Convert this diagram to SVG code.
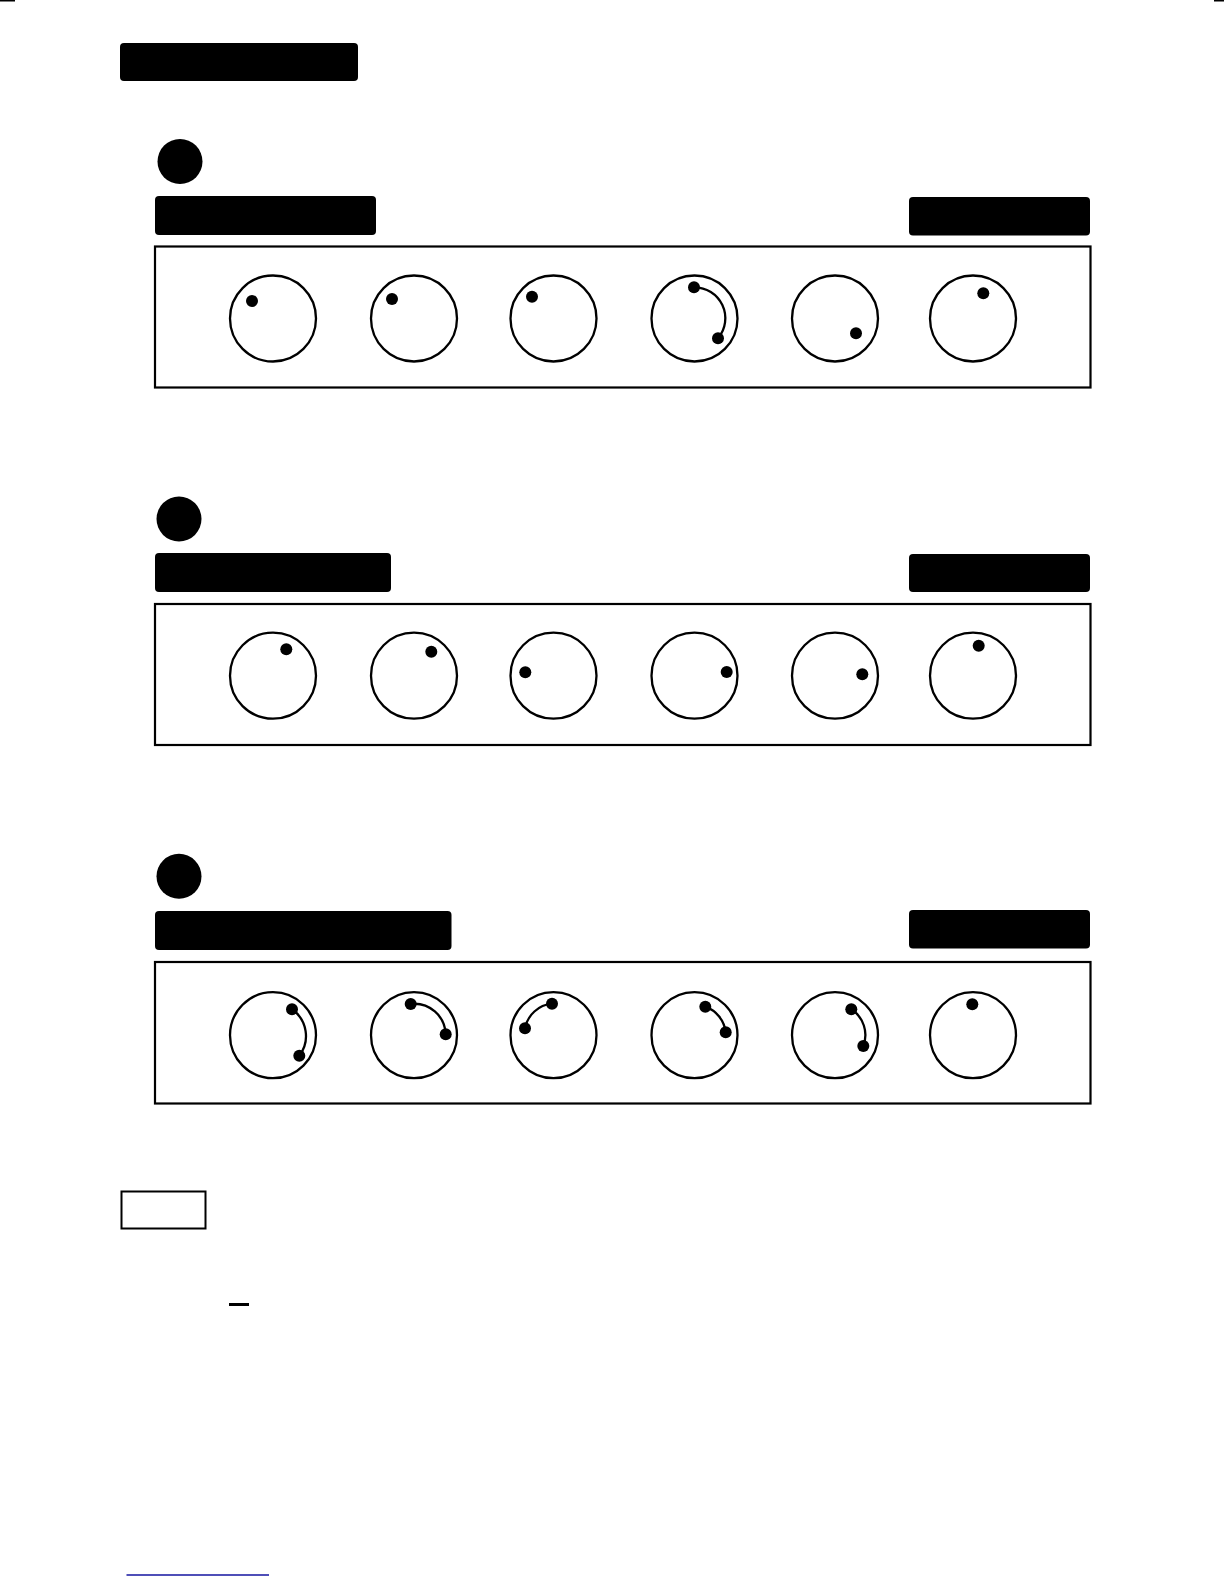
<svg xmlns="http://www.w3.org/2000/svg" width="1224" height="1584" viewBox="0 0 1224 1584">
<style>
.bar{fill:#000}
.badge{fill:#000}
.panel{fill:none;stroke:#000;stroke-width:2.2}
.knob{fill:#fff;stroke:#000;stroke-width:2.3}
.dot{fill:#000}
.arc{fill:none;stroke:#000;stroke-width:2.3}
</style>
<rect x="0" y="0" width="1224" height="1584" fill="#fff"/>
<g id="marks">
<rect x="0" y="0" width="15" height="1.5" fill="#000"/>
<rect x="1214" y="0" width="10" height="1.5" fill="#000"/>
</g>
<g id="title"><rect class="bar" x="120" y="43" width="238" height="38" rx="4"/></g>

<g id="section1">
<circle class="badge" cx="180" cy="161.5" r="22.5"/>
<rect class="bar" x="155" y="196" width="221" height="39" rx="4"/>
<rect class="bar" x="909" y="197" width="181" height="38.5" rx="4"/>
<rect class="panel" x="155" y="246.5" width="935.5" height="141"/>
<g id="s1k1"><circle class="knob" cx="273" cy="318.5" r="43"/><circle class="dot" cx="252" cy="301" r="6"/></g>
<g id="s1k2"><circle class="knob" cx="414" cy="318.5" r="43"/><circle class="dot" cx="392" cy="299" r="6"/></g>
<g id="s1k3"><circle class="knob" cx="553.5" cy="318.5" r="43"/><circle class="dot" cx="532" cy="296.7" r="6"/></g>
<g id="s1k4"><circle class="knob" cx="694.5" cy="318.5" r="43"/><path class="arc" d="M694 287.3 A31 31 0 0 1 718 338.3"/><circle class="dot" cx="694" cy="287.3" r="6"/><circle class="dot" cx="718" cy="338.3" r="6"/></g>
<g id="s1k5"><circle class="knob" cx="835" cy="318.5" r="43"/><circle class="dot" cx="856" cy="333.3" r="6"/></g>
<g id="s1k6"><circle class="knob" cx="973" cy="318.5" r="43"/><circle class="dot" cx="983.3" cy="293.3" r="6"/></g>
</g>

<g id="section2">
<circle class="badge" cx="179" cy="519" r="22.5"/>
<rect class="bar" x="155" y="553" width="236" height="39" rx="4"/>
<rect class="bar" x="909" y="554" width="181" height="38" rx="4"/>
<rect class="panel" x="155" y="604" width="935.5" height="141"/>
<g id="s2k1"><circle class="knob" cx="273" cy="675.7" r="43"/><circle class="dot" cx="286.3" cy="649.3" r="6"/></g>
<g id="s2k2"><circle class="knob" cx="414" cy="675.7" r="43"/><circle class="dot" cx="431.3" cy="651.7" r="6"/></g>
<g id="s2k3"><circle class="knob" cx="553.5" cy="675.7" r="43"/><circle class="dot" cx="525.3" cy="672.3" r="6"/></g>
<g id="s2k4"><circle class="knob" cx="694.5" cy="675.7" r="43"/><circle class="dot" cx="726.7" cy="672" r="6"/></g>
<g id="s2k5"><circle class="knob" cx="835" cy="675.7" r="43"/><circle class="dot" cx="862.3" cy="674.3" r="6"/></g>
<g id="s2k6"><circle class="knob" cx="973" cy="675.7" r="43"/><circle class="dot" cx="978.7" cy="645.7" r="6"/></g>
</g>

<g id="section3">
<circle class="badge" cx="179" cy="876.3" r="22.5"/>
<rect class="bar" x="155" y="911" width="296.5" height="39" rx="4"/>
<rect class="bar" x="909" y="910" width="181" height="38.5" rx="4"/>
<rect class="panel" x="155" y="962" width="935.5" height="141.5"/>
<g id="s3k1"><circle class="knob" cx="273" cy="1035.2" r="43"/><path class="arc" d="M292 1009.3 A32.5 32.5 0 0 1 299.3 1055.7"/><circle class="dot" cx="292" cy="1009.3" r="6"/><circle class="dot" cx="299.3" cy="1055.7" r="6"/></g>
<g id="s3k2"><circle class="knob" cx="414" cy="1035.2" r="43"/><path class="arc" d="M410.7 1004 A31.5 31.5 0 0 1 445.7 1034.3"/><circle class="dot" cx="410.7" cy="1004" r="6"/><circle class="dot" cx="445.7" cy="1034.3" r="6"/></g>
<g id="s3k3"><circle class="knob" cx="553.5" cy="1035.2" r="43"/><path class="arc" d="M525 1028.3 A30.5 30.5 0 0 1 552 1003.7"/><circle class="dot" cx="525" cy="1028.3" r="6"/><circle class="dot" cx="552" cy="1003.7" r="6"/></g>
<g id="s3k4"><circle class="knob" cx="694.5" cy="1035.2" r="43"/><path class="arc" d="M705.3 1006.7 A31 31 0 0 1 725.7 1032.3"/><circle class="dot" cx="705.3" cy="1006.7" r="6"/><circle class="dot" cx="725.7" cy="1032.3" r="6"/></g>
<g id="s3k5"><circle class="knob" cx="835" cy="1035.2" r="43"/><path class="arc" d="M851.3 1009.3 A30.5 30.5 0 0 1 863.3 1046"/><circle class="dot" cx="851.3" cy="1009.3" r="6"/><circle class="dot" cx="863.3" cy="1046" r="6"/></g>
<g id="s3k6"><circle class="knob" cx="973" cy="1035.2" r="43"/><circle class="dot" cx="972.3" cy="1004.3" r="6"/></g>
</g>

<g id="note">
<rect x="121.5" y="1191.5" width="84" height="37" fill="none" stroke="#000" stroke-width="2"/>
<rect x="229" y="1303" width="20" height="3" fill="#000"/>
</g>
<g id="link"><line x1="126.5" y1="1575" x2="269" y2="1575" stroke="#1414a0" stroke-width="1.3"/></g>
<g id="connectors"/>
</svg>
